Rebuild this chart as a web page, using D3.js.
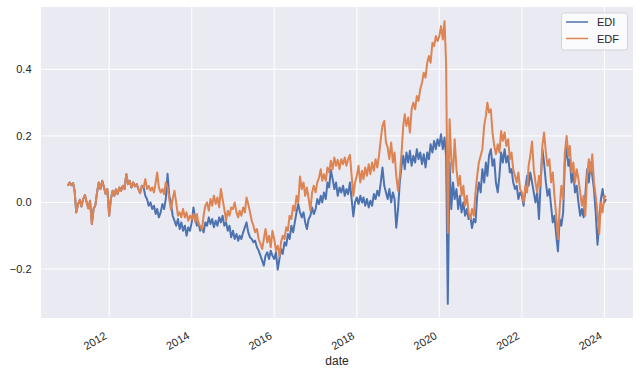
<!DOCTYPE html>
<html>
<head>
<meta charset="utf-8">
<title>EDI vs EDF</title>
<script src="https://cdn.jsdelivr.net/npm/d3@7"></script>
<style>
  body { margin: 0; background: #fff; }
  text { font-family: "Liberation Sans", Arial, sans-serif; fill: #262626; }
</style>
</head>
<body>
<svg width="640" height="374"></svg>
<script>
// values, two per month (1st and 16th), Jan 2011 .. Jan 2024
const edi = [
  0.050, 0.060, 0.052, 0.058, 0.035, -0.030, -0.005, 0.008, -0.012, 0.010, 0.022, 0.000, -0.018, 0.005, -0.065, -0.020, -0.008, 0.030, 0.060, 0.040, 0.065, 0.045, 0.025, 0.040,
  -0.040, 0.010, 0.035, 0.020, 0.040, 0.025, 0.045, 0.035, 0.050, 0.040, 0.085, 0.055, 0.065, 0.045, 0.060, 0.048, 0.055, 0.040, 0.028, 0.050, 0.045, 0.020, 0.010, -0.010,
  0.000, -0.020, -0.010, -0.035, -0.020, -0.045, -0.030, -0.005, -0.020, 0.010, 0.086, 0.020, 0.000, -0.040, -0.055, -0.070, -0.050, -0.080, -0.060, -0.085, -0.070, -0.100, -0.075, -0.085,
  -0.060, -0.015, -0.050, -0.070, -0.060, -0.085, -0.075, -0.090, -0.060, -0.070, -0.045, -0.065, -0.050, -0.075, -0.055, -0.070, -0.045, -0.060, -0.040, -0.070, -0.060, -0.085, -0.070, -0.105,
  -0.085, -0.110, -0.095, -0.115, -0.100, -0.110, -0.090, -0.075, -0.060, -0.090, -0.105, -0.110, -0.120, -0.115, -0.135, -0.145, -0.160, -0.175, -0.190, -0.160, -0.150, -0.170, -0.145, -0.160,
  -0.170, -0.150, -0.202, -0.170, -0.140, -0.155, -0.120, -0.130, -0.095, -0.110, -0.070, -0.090, -0.060, -0.030, -0.005, -0.030, -0.045, -0.030, -0.060, -0.080, -0.050, -0.040, -0.015, -0.035,
  -0.020, 0.010, -0.005, 0.020, 0.000, 0.030, 0.010, 0.060, 0.045, 0.098, 0.070, 0.040, 0.060, 0.020, 0.045, 0.030, 0.050, 0.020, 0.040, 0.025, 0.060, 0.010, -0.042, 0.000,
  0.015, -0.005, 0.020, 0.000, 0.015, -0.010, 0.010, -0.015, 0.005, -0.010, 0.025, 0.010, 0.035, 0.020, 0.060, 0.105, 0.050, 0.030, 0.010, 0.040, 0.000, 0.030, 0.010, -0.076,
  -0.020, 0.060, 0.110, 0.140, 0.100, 0.150, 0.120, 0.155, 0.110, 0.140, 0.120, 0.160, 0.130, 0.150, 0.115, 0.145, 0.105, 0.150, 0.130, 0.175, 0.150, 0.185, 0.160, 0.190,
  0.170, 0.205, 0.160, 0.195, 0.140, -0.305, 0.120, -0.020, 0.060, 0.010, 0.040, -0.020, 0.020, -0.030, 0.000, -0.040, -0.020, -0.050, -0.040, -0.077, -0.050, -0.060, 0.020, 0.060,
  0.030, 0.100, 0.060, 0.120, 0.080, 0.140, 0.160, 0.110, 0.130, 0.060, 0.030, 0.080, 0.150, 0.120, 0.160, 0.120, 0.140, 0.090, 0.100, 0.060, 0.040, 0.050, 0.010, 0.030,
  0.020, -0.010, 0.040, 0.080, 0.050, 0.090, 0.060, 0.030, 0.000, 0.030, -0.050, 0.060, 0.160, 0.120, 0.060, 0.020, 0.040, -0.010, -0.060, -0.040, -0.100, -0.147, -0.050, -0.070,
  -0.030, 0.120, 0.165, 0.110, 0.130, 0.060, 0.090, 0.030, 0.050, 0.000, -0.040, -0.020, -0.045, 0.020, 0.100, 0.060, 0.120, 0.080, 0.040, -0.030, -0.127, -0.060, 0.010, 0.040,
  0.000, 0.010
]

const edf = [
  0.050, 0.060, 0.052, 0.058, 0.035, -0.030, -0.005, 0.008, -0.012, 0.010, 0.022, 0.000, -0.018, 0.005, -0.065, -0.020, -0.008, 0.030, 0.060, 0.040, 0.065, 0.045, 0.025, 0.040,
  -0.040, 0.010, 0.035, 0.020, 0.040, 0.025, 0.045, 0.035, 0.050, 0.040, 0.085, 0.055, 0.065, 0.045, 0.060, 0.048, 0.055, 0.040, 0.028, 0.050, 0.045, 0.070, 0.040, 0.050,
  0.035, 0.045, 0.030, 0.060, 0.090, 0.045, 0.030, 0.040, 0.025, 0.060, 0.045, 0.010, -0.022, 0.010, 0.035, 0.000, -0.040, -0.030, -0.045, -0.020, -0.045, -0.030, -0.055, -0.040,
  -0.050, -0.035, -0.060, -0.035, -0.065, -0.070, -0.082, -0.040, -0.010, 0.000, -0.025, 0.010, -0.010, 0.020, -0.005, 0.015, -0.015, 0.040, 0.010, -0.020, -0.055, -0.025, -0.040, -0.015,
  -0.020, 0.000, -0.030, -0.045, -0.025, -0.040, -0.015, -0.030, 0.015, -0.005, -0.030, -0.055, -0.070, -0.090, -0.080, -0.110, -0.125, -0.140, -0.110, -0.080, -0.120, -0.100, -0.135, -0.085,
  -0.110, -0.145, -0.130, -0.162, -0.120, -0.100, -0.110, -0.075, -0.085, -0.040, -0.050, -0.010, -0.025, 0.020, 0.000, 0.078, 0.040, 0.060, 0.020, 0.045, 0.010, -0.025, 0.030, 0.050,
  0.030, 0.060, 0.075, 0.100, 0.065, 0.085, 0.065, 0.105, 0.090, 0.125, 0.100, 0.135, 0.110, 0.128, 0.100, 0.130, 0.115, 0.135, 0.110, 0.130, 0.143, 0.080, 0.020, 0.060,
  0.080, 0.110, 0.060, 0.095, 0.070, 0.105, 0.080, 0.115, 0.085, 0.120, 0.095, 0.130, 0.105, 0.140, 0.190, 0.230, 0.245, 0.180, 0.165, 0.130, 0.180, 0.120, 0.150, 0.080,
  0.035, 0.080, 0.150, 0.230, 0.265, 0.230, 0.255, 0.210, 0.280, 0.300, 0.280, 0.320, 0.305, 0.340, 0.360, 0.390, 0.375, 0.420, 0.440, 0.420, 0.480, 0.470, 0.500, 0.485,
  0.500, 0.530, 0.490, 0.545, 0.420, -0.092, 0.250, 0.130, 0.090, 0.190, 0.100, 0.050, 0.080, 0.020, 0.050, -0.010, 0.020, -0.030, -0.050, -0.020, -0.040, 0.030, 0.080, 0.120,
  0.140, 0.160, 0.230, 0.260, 0.300, 0.270, 0.280, 0.210, 0.170, 0.145, 0.175, 0.150, 0.215, 0.185, 0.210, 0.170, 0.190, 0.130, 0.150, 0.100, 0.080, 0.060, 0.090, 0.040,
  0.030, 0.000, 0.050, 0.030, 0.110, 0.140, 0.183, 0.100, 0.060, 0.030, 0.080, 0.050, 0.170, 0.210, 0.150, 0.110, 0.130, 0.060, 0.090, 0.020, -0.040, -0.110, -0.020, 0.050,
  0.010, 0.150, 0.200, 0.140, 0.170, 0.090, 0.120, 0.060, 0.100, 0.070, 0.030, -0.010, 0.020, -0.040, 0.080, 0.130, 0.090, 0.145, 0.060, 0.020, -0.030, -0.095, 0.000, -0.030,
  0.020, 0.015
]

const seriesNames = ["EDI", "EDF"]
const seriesColors = ["#4c72b0", "#dd8452"]
const yTicks = [-0.2, 0.0, 0.2, 0.4]
const xTickYears = [2012, 2014, 2016, 2018, 2020, 2022, 2024]

// sample dates: 1st and 16th of each month
const dates = d3.timeMonth.range(new Date(2011, 0, 1), new Date(2024, 1, 1))
    .flatMap(m => [m, d3.timeDay.offset(m, 15)])

const m = {left: 41, right: 633, top: 7, bottom: 318}

let svg = d3.select("svg")

// matplotlib style 5% margins
let t0 = dates[0], t1 = dates[dates.length - 1]
let tpad = (t1 - t0) * 0.05
let x = d3.scaleTime()
    .domain([new Date(+t0 - tpad), new Date(+t1 + tpad)])
    .range([m.left, m.right])

let [lo, hi] = d3.extent(edi.concat(edf))
let vpad = (hi - lo) * 0.05
let y = d3.scaleLinear()
    .domain([lo - vpad, hi + vpad])
    .range([m.bottom, m.top])

// plot background
svg.append("rect")
    .attr("x", m.left).attr("y", m.top)
    .attr("width", m.right - m.left).attr("height", m.bottom - m.top)
    .attr("fill", "#eaeaf2")

// grid
let grid = svg.append("g").attr("stroke", "#fff").attr("stroke-width", 1)
grid.selectAll(".gy").data(yTicks).enter().append("line")
    .attr("x1", m.left).attr("x2", m.right)
    .attr("y1", d => y(d)).attr("y2", d => y(d))
grid.selectAll(".gx").data(xTickYears).enter().append("line")
    .attr("y1", m.top).attr("y2", m.bottom)
    .attr("x1", d => x(new Date(d, 0, 1))).attr("x2", d => x(new Date(d, 0, 1)))

// lines (a little heavier than 1.5 to stand in for the dense daily noise)
let line = d3.line()
    .x((d, i) => x(dates[i]))
    .y(d => y(d))

;[edi, edf].forEach((s, i) => {
    svg.append("path")
        .datum(s)
        .attr("d", line)
        .attr("fill", "none")
        .attr("stroke", seriesColors[i])
        .attr("stroke-width", 2)
        .attr("stroke-linejoin", "round")
})

// y tick labels
let fmt = d3.format(".1f")
svg.selectAll(".yl").data(yTicks).enter().append("text")
    .attr("x", m.left - 9.5)
    .attr("y", d => y(d) + 4)
    .attr("text-anchor", "end")
    .style("font-size", "11px")
    .text(d => fmt(d))

// x tick labels, rotated 30 degrees
svg.selectAll(".xl").data(xTickYears).enter().append("text")
    .attr("transform", d => `translate(${x(new Date(d, 0, 1)) - 1.5},338) rotate(-30)`)
    .attr("text-anchor", "end")
    .style("font-size", "11px")
    .text(d => d)

// axis label
svg.append("text")
    .attr("x", (m.left + m.right) / 2)
    .attr("y", 365)
    .attr("text-anchor", "middle")
    .style("font-size", "12px")
    .text("date")

// legend
let lg = svg.append("g")
lg.append("rect")
    .attr("x", 561.5).attr("y", 13)
    .attr("width", 66).attr("height", 37)
    .attr("rx", 2.5)
    .attr("fill", "rgba(255,255,255,0.8)")
    .attr("stroke", "rgba(204,204,204,0.8)")
    .attr("stroke-width", 1)
seriesNames.forEach((name, i) => {
    let ly = 22 + i * 16.5
    lg.append("line")
        .attr("x1", 566).attr("x2", 588)
        .attr("y1", ly).attr("y2", ly)
        .attr("stroke", seriesColors[i])
        .attr("stroke-width", 1.5)
    lg.append("text")
        .attr("x", 597).attr("y", ly + 4)
        .style("font-size", "11px")
        .text(name)
})
</script>
</body>
</html>
